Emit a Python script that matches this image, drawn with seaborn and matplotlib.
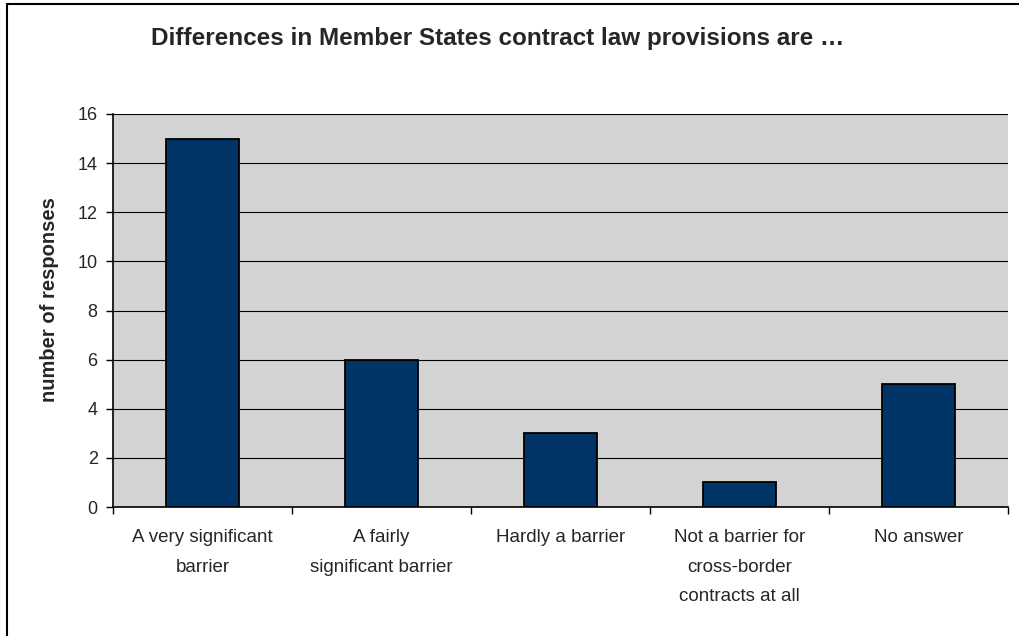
import matplotlib
matplotlib.use("Agg")
import matplotlib.pyplot as plt
import seaborn as sns
import pandas as pd
from matplotlib.lines import Line2D

categories = ["A very significant\nbarrier", "A fairly\nsignificant barrier", "Hardly a barrier",
              "Not a barrier for\ncross-border\ncontracts at all", "No answer"]
values = [15, 6, 3, 1, 5]
yticks = [0, 2, 4, 6, 8, 10, 12, 14, 16]
title = "Differences in Member States contract law provisions are \u2026"
ylabel = "number of responses"

sns.set_theme(style="white")
plt.rcParams['font.family'] = ['Liberation Sans', 'DejaVu Sans']

W, H = 1019, 636
fig = plt.figure(figsize=(W / 100, H / 100), dpi=100)
fig.patch.set_facecolor("white")
ax = fig.add_axes([113 / W, 1 - 507 / H, (1008 - 113) / W, (507 - 114) / H])
ax.set_facecolor("#D3D3D3")

df = pd.DataFrame({"cat": categories, "val": values})
sns.barplot(data=df, x="cat", y="val", color="#003366", saturation=1, edgecolor="black",
            linewidth=1.3, width=0.41, ax=ax, zorder=3)

ax.set_xlim(-0.5, len(categories) - 0.5)
ax.set_ylim(0, 16)
ax.set_yticks(yticks)
ax.set_yticklabels([str(t) for t in yticks], fontsize=13)
ax.yaxis.grid(True, color="black", linewidth=0.8, zorder=1)
ax.set_axisbelow(True)

ax.set_xticks(range(len(categories)))
ax.set_xticklabels(categories, fontsize=13.5, linespacing=1.97, va="top")
ax.set_xticks([i - 0.5 for i in range(len(categories) + 1)], minor=True)
ax.tick_params(axis="x", which="major", length=0, pad=16)
ax.tick_params(axis="x", which="minor", length=5, width=1, color="black", direction="out")
ax.tick_params(axis="y", length=5, width=1, color="black", direction="out", pad=6)
ax.xaxis.set_ticks_position("bottom")
ax.yaxis.set_ticks_position("left")

for s in ["top", "right"]:
    ax.spines[s].set_visible(False)
for s in ["left", "bottom"]:
    ax.spines[s].set_visible(True)
    ax.spines[s].set_color("black")
    ax.spines[s].set_linewidth(1.2)

ax.set_xlabel("")
ax.set_ylabel("")
fig.text(50 / W, 1 - 300 / H, ylabel, rotation=90, ha="center", va="center",
         fontsize=14.5, fontweight="bold")
fig.text(498 / W, 1 - 39 / H, title, ha="center", va="center", fontsize=17.5, fontweight="bold")

# outer chart border (left and top visible)
fig.add_artist(Line2D([7 / W, 7 / W], [0, 1 - 4 / H], transform=fig.transFigure, color="black", linewidth=1.5))
fig.add_artist(Line2D([7 / W, 1], [1 - 4 / H, 1 - 4 / H], transform=fig.transFigure, color="black", linewidth=1.5))

fig.savefig("out.png", dpi=100)
